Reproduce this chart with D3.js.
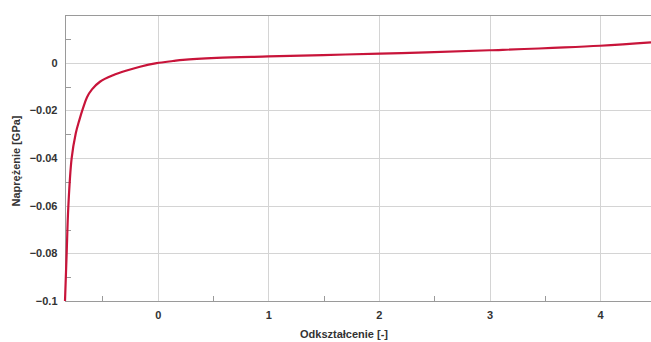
<!DOCTYPE html>
<html>
<head>
<meta charset="utf-8">
<script src="https://cdn.jsdelivr.net/npm/d3@7"></script>
<style>
  html, body { margin: 0; padding: 0; background: #fff; }
  svg { display: block; }
  text { font-family: Arial, "Liberation Sans", sans-serif; }
</style>
</head>
<body>
<svg id="chart" width="651" height="342"></svg>
<script>
// Strain (x) and stress in GPa (y) along the measured curve
const strain = [-0.838, -0.823, -0.808, -0.778, -0.741, -0.709, -0.675, -0.639, -0.594, -0.522,
                -0.404, -0.280, -0.160, -0.009, 0.138, 0.229, 0.533, 1.0, 1.495, 2.01,
                2.43, 3.0, 4.0, 4.46];
const stress = [-0.1, -0.080, -0.0605, -0.0402, -0.0297, -0.0242, -0.0191, -0.0145, -0.0112, -0.0080,
                -0.0053, -0.0033, -0.0017, -0.0002, 0.0007, 0.0012, 0.0020, 0.0026, 0.0032, 0.0038,
                0.0043, 0.0052, 0.0071, 0.0085];

const xTicks = [0, 1, 2, 3, 4];
const xMinorTicks = [-0.5, 0.5, 1.5, 2.5, 3.5];
const yTicks = [0, -0.02, -0.04, -0.06, -0.08, -0.1];
const yMinorTicks = [0.01, -0.01, -0.03, -0.05, -0.07, -0.09];
const xTitle = "Odkształcenie [-]";
const yTitle = "Naprężenie [GPa]";

const svg = d3.select("#chart");
const plotLeft = 65, plotRight = 651, plotTop = 15, plotBottom = 301;

const x = d3.scaleLinear().domain([-0.838, 4.46]).range([plotLeft, plotRight]);
const y = d3.scaleLinear().domain([-0.1, 0.02]).range([plotBottom, plotTop]);

// grid
const grid = svg.append("g").attr("stroke", "#d4d4d4").attr("stroke-width", 1);
grid.selectAll("line.gx").data(xTicks).join("line")
  .attr("x1", d => Math.round(x(d)) + 0.5).attr("x2", d => Math.round(x(d)) + 0.5)
  .attr("y1", plotTop).attr("y2", plotBottom);
grid.selectAll("line.gy").data(yTicks).join("line")
  .attr("y1", d => Math.round(y(d)) + 0.5).attr("y2", d => Math.round(y(d)) + 0.5)
  .attr("x1", plotLeft).attr("x2", plotRight);

// frame lines
const frame = svg.append("g").attr("stroke", "#9a9a9a").attr("stroke-width", 1);
frame.append("line").attr("x1", plotLeft + 0.5).attr("x2", plotLeft + 0.5).attr("y1", plotTop).attr("y2", plotBottom + 0.5);
frame.append("line").attr("x1", plotLeft).attr("x2", plotRight).attr("y1", plotBottom + 0.5).attr("y2", plotBottom + 0.5);
frame.append("line").attr("x1", plotLeft).attr("x2", plotRight).attr("y1", plotTop + 0.5).attr("y2", plotTop + 0.5);

// axes drawn with d3 axis generators; tick marks handled separately
const xAxis = svg.append("g").attr("transform", `translate(0,${plotBottom + 0.5})`)
  .call(d3.axisBottom(x).tickValues(xTicks).tickSize(0).tickPadding(10).tickFormat(d3.format("d")));
const yAxis = svg.append("g").attr("transform", `translate(${plotLeft + 0.5},0)`)
  .call(d3.axisLeft(y).tickValues(yTicks).tickSize(0).tickPadding(8)
    .tickFormat(d => d === 0 ? "0" : d3.format(".2~f")(d)));
[xAxis, yAxis].forEach(a => {
  a.select(".domain").remove();
  a.selectAll("text").attr("fill", "#333").attr("font-size", 11).attr("font-weight", "bold");
});

// minor ticks pointing into the plot
svg.append("g").attr("stroke", "#9a9a9a").selectAll("line").data(xMinorTicks).join("line")
  .attr("x1", d => Math.round(x(d)) + 0.5).attr("x2", d => Math.round(x(d)) + 0.5)
  .attr("y1", plotBottom).attr("y2", plotBottom - 5);
svg.append("g").attr("stroke", "#9a9a9a").selectAll("line").data(yMinorTicks).join("line")
  .attr("y1", d => Math.round(y(d)) + 0.5).attr("y2", d => Math.round(y(d)) + 0.5)
  .attr("x1", plotLeft).attr("x2", plotLeft + 6);

// curve
const pts = strain.map((s, i) => [s, stress[i]]);
svg.append("path").datum(pts)
  .attr("fill", "none").attr("stroke", "#c8143a").attr("stroke-width", 2.2)
  .attr("stroke-linejoin", "round")
  .attr("d", d3.line().x(d => x(d[0])).y(d => y(d[1])).curve(d3.curveCatmullRom.alpha(0.5)));

// titles
svg.append("text").attr("x", 344).attr("y", 338).attr("text-anchor", "middle")
  .attr("font-size", 11).attr("font-weight", "bold").attr("fill", "#333").text(xTitle);
svg.append("text").attr("transform", "translate(20,161) rotate(-90)").attr("text-anchor", "middle")
  .attr("font-size", 11).attr("font-weight", "bold").attr("fill", "#333").text(yTitle);
</script>
</body>
</html>
